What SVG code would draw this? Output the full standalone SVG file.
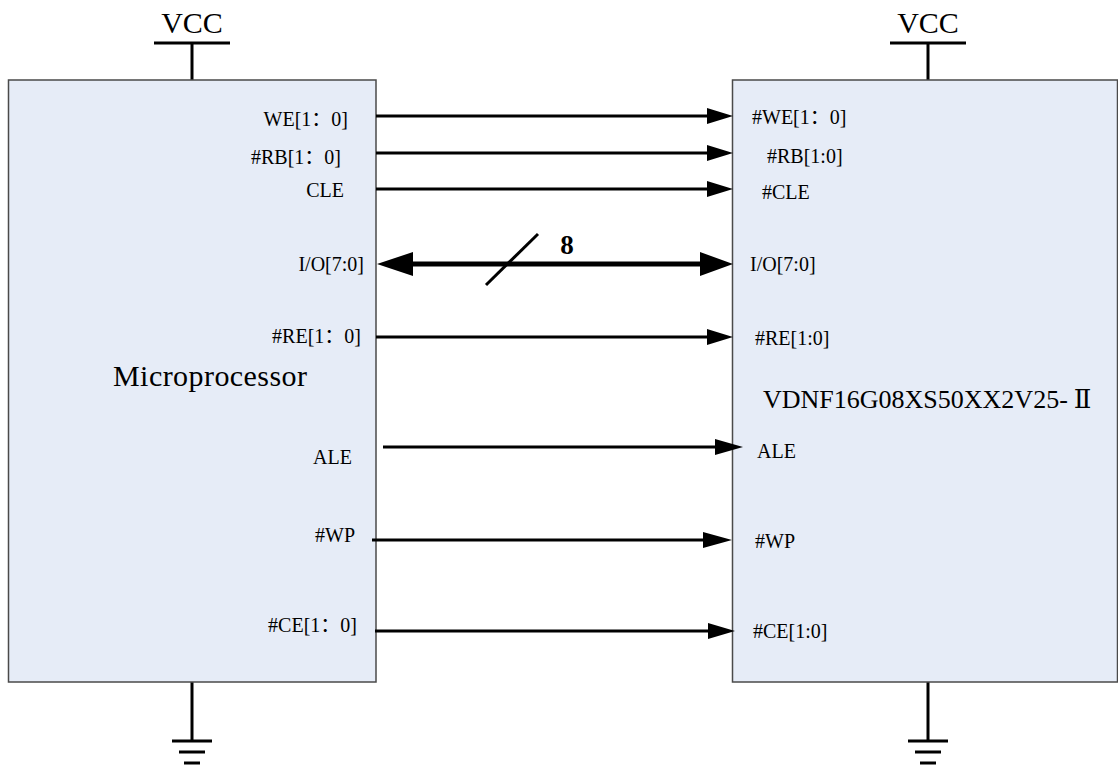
<svg xmlns="http://www.w3.org/2000/svg" width="1118" height="769" viewBox="0 0 1118 769">
<style>
.box{fill:#E6ECF7;stroke:#4a4a4a;stroke-width:1.5}
.w{stroke:#000;stroke-width:3;fill:none}
.bus{stroke:#000;stroke-width:5;fill:none}
.ah{fill:#000;stroke:none}
.lbl{font-family:"Liberation Serif","Noto Sans CJK SC",serif;font-size:20px;fill:#000}
.big{font-family:"Liberation Serif","Noto Sans CJK SC",serif;font-size:30px;fill:#000}
.chip{font-family:"Liberation Serif","DejaVu Serif","Noto Sans CJK SC",serif;font-size:26px;fill:#000}
.num{font-family:"Liberation Serif",serif;font-size:27px;font-weight:bold;fill:#000}
</style>
<rect width="1118" height="769" fill="#fff"/>
<g id="power">
  <text class="big" x="192" y="33" text-anchor="middle">VCC</text>
  <line class="w" x1="154" y1="43" x2="230" y2="43"/>
  <line class="w" x1="192" y1="43" x2="192" y2="80"/>
  <text class="big" x="928" y="33" text-anchor="middle">VCC</text>
  <line class="w" x1="890" y1="43" x2="966" y2="43"/>
  <line class="w" x1="928" y1="43" x2="928" y2="80"/>
</g>
<g id="ground">
  <line class="w" x1="192" y1="682" x2="192" y2="741"/>
  <line class="w" x1="172" y1="741" x2="212" y2="741"/>
  <line class="w" x1="179" y1="752" x2="205" y2="752"/>
  <line class="w" x1="184" y1="763" x2="200" y2="763"/>
  <line class="w" x1="928" y1="682" x2="928" y2="741"/>
  <line class="w" x1="908" y1="741" x2="948" y2="741"/>
  <line class="w" x1="915" y1="752" x2="941" y2="752"/>
  <line class="w" x1="920" y1="763" x2="936" y2="763"/>
</g>
<g id="microprocessor">
  <rect class="box" x="8.5" y="80" width="367.5" height="602"/>
  <text class="big" x="113" y="386" textLength="194">Microprocessor</text>
  <g class="lbl" text-anchor="end">
    <text x="348" y="126">WE[1：0]</text>
    <text x="341" y="164">#RB[1：0]</text>
    <text x="344" y="197">CLE</text>
    <text x="364" y="271">I/O[7:0]</text>
    <text x="361" y="343">#RE[1：0]</text>
    <text x="352" y="464">ALE</text>
    <text x="355" y="542">#WP</text>
    <text x="357" y="632">#CE[1：0]</text>
  </g>
</g>
<g id="flash">
  <rect class="box" x="732.5" y="80" width="385" height="602"/>
  <text class="chip" x="763" y="408">VDNF16G08XS50XX2V25-<tspan dx="6">Ⅱ</tspan></text>
  <g class="lbl">
    <text x="752" y="124">#WE[1：0]</text>
    <text x="767" y="163">#RB[1:0]</text>
    <text x="762" y="199">#CLE</text>
    <text x="750" y="271">I/O[7:0]</text>
    <text x="755" y="345">#RE[1:0]</text>
    <text x="757" y="458">ALE</text>
    <text x="755" y="548">#WP</text>
    <text x="753" y="638">#CE[1:0]</text>
  </g>
</g>
<g id="connectors">
  <line class="w" x1="376" y1="116" x2="712" y2="116"/>
  <polygon class="ah" points="707,108 733,116 707,124"/>
  <line class="w" x1="376" y1="153" x2="712" y2="153"/>
  <polygon class="ah" points="707,145 733,153 707,161"/>
  <line class="w" x1="376" y1="189" x2="712" y2="189"/>
  <polygon class="ah" points="707,181 733,189 707,197"/>
  <line class="bus" x1="405" y1="264" x2="705" y2="264"/>
  <polygon class="ah" points="413,252 377,264 413,276"/>
  <polygon class="ah" points="700,252 733,264 700,276"/>
  <line class="w" x1="486" y1="285" x2="538" y2="234"/>
  <text class="num" x="567" y="254" text-anchor="middle">8</text>
  <line class="w" x1="376" y1="337" x2="712" y2="337"/>
  <polygon class="ah" points="707,329 733,337 707,345"/>
  <line class="w" x1="383" y1="447" x2="720" y2="447"/>
  <polygon class="ah" points="715,439 743,447 715,455"/>
  <line class="w" x1="372" y1="540" x2="708" y2="540"/>
  <polygon class="ah" points="703,532 732,540 703,548"/>
  <line class="w" x1="375" y1="631" x2="712" y2="631"/>
  <polygon class="ah" points="708,623 735,631 708,639"/>
</g>
</svg>
